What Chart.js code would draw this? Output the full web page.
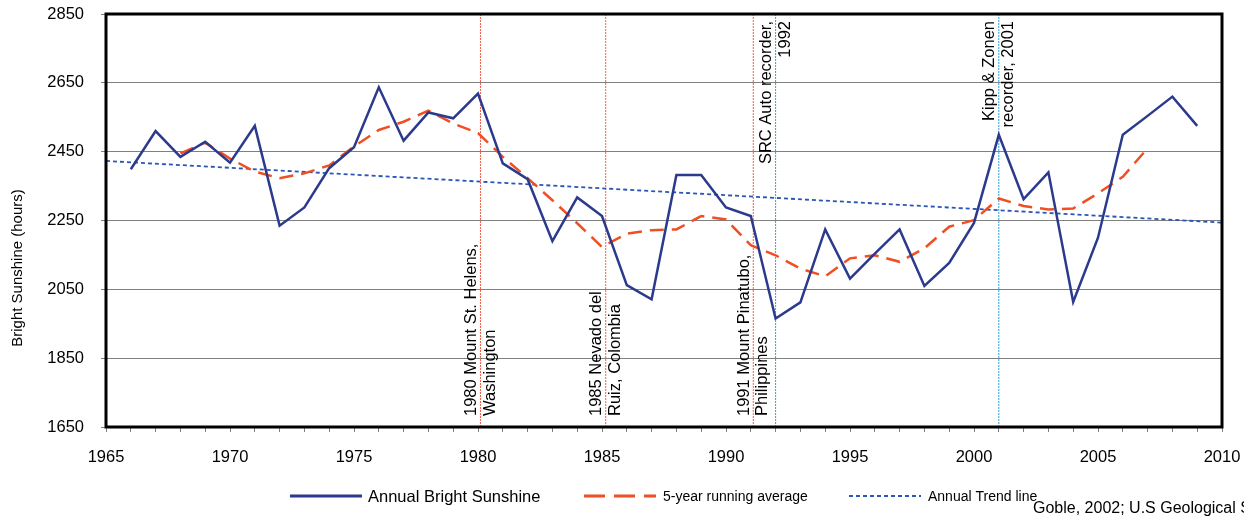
<!DOCTYPE html>
<html>
<head>
<meta charset="utf-8">
<script src="https://cdn.jsdelivr.net/npm/chart.js@4"></script>
<style>
  html, body { margin: 0; padding: 0; background: #fff; }
  #wrap { width: 1244px; height: 523px; position: relative; }
</style>
</head>
<body>
<div id="wrap"><canvas id="myChart"></canvas></div>
<script>
// annual bright sunshine, hours
var annualYears = [1966, 1967, 1968, 1969, 1970, 1971, 1972, 1973, 1974, 1975,
  1976, 1977, 1978, 1979, 1980, 1981, 1982, 1983, 1984, 1985,
  1986, 1987, 1988, 1989, 1990, 1991, 1992, 1993, 1994, 1995,
  1996, 1997, 1998, 1999, 2000, 2001, 2002, 2003, 2004, 2005,
  2006, 2007, 2008, 2009];
var annualHours = [2399, 2510, 2435, 2479, 2418, 2525, 2235, 2288, 2402, 2463,
  2637, 2482, 2564, 2547, 2619, 2416, 2370, 2190, 2317, 2263,
  2062, 2021, 2382, 2382, 2288, 2263, 1965, 2012, 2224, 2081,
  2154, 2224, 2060, 2127, 2243, 2499, 2312, 2390, 2013, 2200,
  2499, 2554, 2610, 2525];

// 5-year running average
var avgYears = [1968, 1969, 1970, 1971, 1972, 1973, 1974, 1975, 1976, 1977,
  1978, 1979, 1980, 1981, 1982, 1983, 1984, 1985, 1986, 1987,
  1988, 1989, 1990, 1991, 1992, 1993, 1994, 1995, 1996, 1997,
  1998, 1999, 2000, 2001, 2002, 2003, 2004, 2005, 2006, 2007];
var avgHours = [2445, 2476, 2430, 2392, 2373, 2387, 2410, 2465, 2513, 2537,
  2569, 2532, 2504, 2435, 2373, 2309, 2242, 2173, 2212, 2222,
  2224, 2263, 2253, 2178, 2149, 2110, 2088, 2140, 2149, 2130,
  2169, 2232, 2251, 2314, 2292, 2282, 2285, 2329, 2377, 2460];

// trend line end points
var trendYears = [1965, 2010];
var trendHours = [2423, 2244];

// markers
var eventYears = [1980.1, 1985.15, 1991.1];
var eventLabels = [["1980 Mount St. Helens,", "Washington"],
                   ["1985 Nevado del", "Ruiz, Colombia"],
                   ["1991 Mount Pinatubo,", "Philippines"]];
var recorderYears = [1992, 2001];
var recorderLabels = [["SRC Auto recorder,", "1992"],
                      ["Kipp & Zonen", "recorder, 2001"]];

var yMin = 1650, yMax = 2850, yStep = 200;
var xMin = 1965, xMax = 2010;

var FONT = '"Liberation Sans", Arial, sans-serif';
Chart.defaults.font.family = FONT;
Chart.defaults.color = '#000';

function pts(xs, ys) {
  return xs.map(function (x, i) { return {x: x, y: ys[i]}; });
}

var datasets = [{
  label: 'Annual Bright Sunshine',
  data: pts(annualYears, annualHours),
  borderColor: '#2B3A8C',
  borderWidth: 2.5,
  pointRadius: 0,
  tension: 0
}, {
  label: '5-year running average',
  data: pts(avgYears, avgHours),
  borderColor: '#F04E23',
  borderWidth: 2.5,
  borderDash: [14, 8],
  pointRadius: 0,
  tension: 0
}, {
  label: 'Annual Trend line',
  data: pts(trendYears, trendHours),
  borderColor: '#2A56B6',
  borderWidth: 1.8,
  borderDash: [4, 3],
  pointRadius: 0
}];

eventYears.forEach(function (yr) {
  datasets.push({
    label: '',
    data: [{x: yr, y: yMin}, {x: yr, y: yMax}],
    borderColor: '#F0604A', borderWidth: 1, borderDash: [2, 1], pointRadius: 0
  });
});
recorderYears.forEach(function (yr) {
  datasets.push({
    label: '',
    data: [{x: yr, y: yMin}, {x: yr, y: yMax}],
    borderColor: '#2AA3DC', borderWidth: 1, borderDash: [2, 1], pointRadius: 0
  });
});

function rotText(ctx, text, x, y, align) {
  ctx.save();
  ctx.translate(x, y);
  ctx.rotate(-Math.PI / 2);
  ctx.textAlign = align;
  ctx.textBaseline = 'middle';
  ctx.fillText(text, 0, 0);
  ctx.restore();
}

var extras = {
  id: 'extras',
  afterDatasetsDraw: function (chart) {
    var ctx = chart.ctx, xs = chart.scales.x, a = chart.chartArea;
    ctx.save();
    ctx.fillStyle = '#000';
    ctx.font = '16.5px ' + FONT;
    eventYears.forEach(function (yr, i) {
      var px = xs.getPixelForValue(yr);
      rotText(ctx, eventLabels[i][0], px - 9, 416, 'left');
      rotText(ctx, eventLabels[i][1], px + 9.5, 416, 'left');
    });
    recorderYears.forEach(function (yr, i) {
      var px = xs.getPixelForValue(yr);
      rotText(ctx, recorderLabels[i][0], px - 9, 21, 'right');
      rotText(ctx, recorderLabels[i][1], px + 9.5, 21, 'right');
    });
    // frame
    ctx.strokeStyle = '#000';
    ctx.lineWidth = 3;
    ctx.strokeRect(a.left, a.top, a.right - a.left, a.bottom - a.top);
    ctx.restore();
  },
  afterDraw: function (chart) {
    var ctx = chart.ctx;
    ctx.save();
    ctx.fillStyle = '#000';
    // y title
    ctx.font = '15px ' + FONT;
    rotText(ctx, 'Bright Sunshine (hours)', 18, 268, 'center');
    // legend
    var items = [
      {ds: 0, x0: 290, x1: 362, tx: 368, size: 16.5},
      {ds: 1, x0: 584, x1: 656, tx: 663, size: 14},
      {ds: 2, x0: 849, x1: 921, tx: 928, size: 14}
    ];
    items.forEach(function (it) {
      var d = chart.data.datasets[it.ds];
      ctx.strokeStyle = d.borderColor;
      ctx.lineWidth = it.ds === 1 ? 3 : d.borderWidth + (it.ds === 0 ? 0.5 : 0);
      ctx.setLineDash(it.ds === 1 ? [21, 9] : (d.borderDash || []));
      ctx.beginPath();
      ctx.moveTo(it.x0, 496);
      ctx.lineTo(it.x1, 496);
      ctx.stroke();
      ctx.setLineDash([]);
      ctx.font = it.size + 'px ' + FONT;
      ctx.textAlign = 'left';
      ctx.textBaseline = 'middle';
      ctx.fillText(d.label, it.tx, 497);
    });
    // source
    ctx.font = '16px ' + FONT;
    ctx.fillText('Goble, 2002; U.S Geological Survey', 1033, 509);
    ctx.restore();
  }
};

var ctx = document.getElementById('myChart').getContext('2d');
var myChart = new Chart(ctx, {
  type: 'line',
  data: { datasets: datasets },
  options: {
    responsive: true,
    maintainAspectRatio: false,
    animation: false,
    layout: { padding: { top: 14, right: 22, left: 0, bottom: 0 } },
    plugins: {
      legend: { display: false },
      tooltip: { enabled: false }
    },
    scales: {
      x: {
        type: 'linear',
        min: xMin,
        max: xMax,
        ticks: {
          stepSize: 1,
          autoSkip: false,
          maxRotation: 0,
          padding: 16,
          font: { size: 16.5 },
          callback: function (v) { return v % 5 === 0 ? String(v) : ''; }
        },
        grid: { drawOnChartArea: false, tickLength: 5, color: '#808080' },
        border: { display: false },
        afterFit: function (s) { s.height = 96; s.paddingLeft = 0; s.paddingRight = 0; }
      },
      y: {
        min: yMin,
        max: yMax,
        ticks: {
          stepSize: yStep,
          padding: 17,
          font: { size: 16.5 },
          callback: function (v) { return String(v); }
        },
        grid: { color: '#808080', tickLength: 5 },
        border: { display: false },
        afterFit: function (s) { s.width = 106; s.paddingTop = 0; s.paddingBottom = 0; }
      }
    }
  },
  plugins: [extras]
});
</script>
</body>
</html>
